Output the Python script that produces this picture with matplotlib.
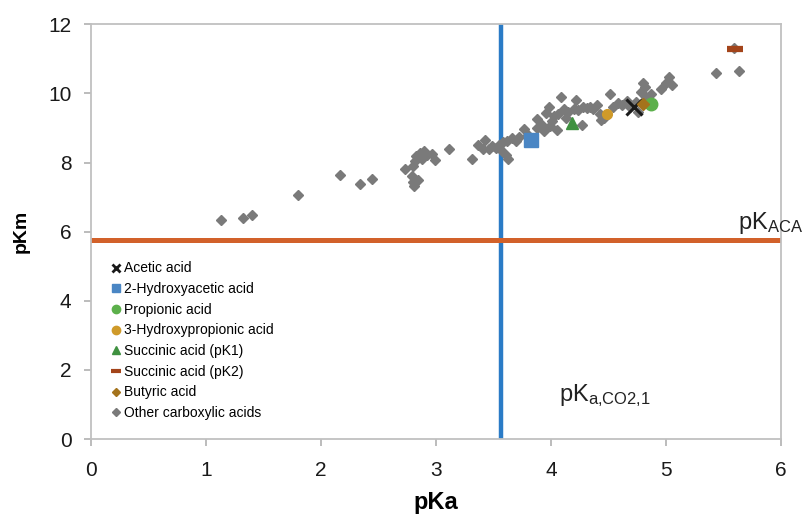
import numpy as np
import matplotlib.pyplot as plt

plt.rcParams['font.family'] = ['Liberation Sans', 'DejaVu Sans']
plt.rcParams['mathtext.default'] = 'regular'

# named acids: (pKa, pKm)
acetic = (4.72, 9.61)
hydroxyacetic = (3.83, 8.66)
propionic = (4.87, 9.69)
hydroxypropionic = (4.49, 9.41)
succinic_pk1 = (4.18, 9.13)
succinic_pk2 = (5.60, 11.28)
butyric = (4.80, 9.70)

# other carboxylic acids
other_pka = [1.13, 1.32, 1.40, 1.80, 2.17, 2.34, 2.44,
             2.73, 2.79, 2.80, 2.81, 2.80, 2.82, 2.83, 2.84, 2.86, 2.88, 2.90, 2.92, 2.97, 2.99, 3.11,
             3.31, 3.37, 3.41, 3.43, 3.46, 3.49, 3.52, 3.55, 3.57, 3.58, 3.61, 3.63, 3.62, 3.66, 3.70,
             3.72, 3.77, 3.80, 3.88, 3.88, 3.92, 3.94, 3.96, 3.98, 3.99, 4.01, 4.03, 4.05, 4.06, 4.09,
             4.11, 4.13, 4.15, 4.20, 4.22, 4.24, 4.27, 4.28, 4.31, 4.34, 4.37, 4.40, 4.43, 4.44, 4.46,
             4.51, 4.54, 4.58, 4.62, 4.66, 4.69, 4.74, 4.76, 4.78, 4.80, 4.82, 4.83, 4.87, 4.96, 5.00,
             5.03, 5.05, 5.44, 5.64, 5.59]
other_pkm = [6.33, 6.40, 6.47, 7.05, 7.65, 7.39, 7.51,
             7.82, 7.62, 7.44, 7.33, 7.90, 8.05, 8.18, 7.50, 8.27, 8.10, 8.33, 8.22, 8.24, 8.08, 8.40,
             8.11, 8.50, 8.38, 8.64, 8.40, 8.47, 8.42, 8.52, 8.35, 8.58, 8.21, 8.10, 8.62, 8.70, 8.62,
             8.74, 8.98, 8.80, 9.27, 9.00, 9.10, 8.92, 9.42, 9.61, 9.05, 9.20, 9.35, 8.95, 9.40, 9.89,
             9.55, 9.30, 9.45, 9.55, 9.80, 9.52, 9.08, 9.60, 9.58, 9.62, 9.55, 9.65, 9.40, 9.22, 9.30,
             9.99, 9.62, 9.72, 9.66, 9.78, 9.60, 9.75, 9.46, 10.05, 10.30, 10.18, 9.90, 9.99, 10.13, 10.30,
             10.47, 10.25, 10.59, 10.64, 11.30]

pka_co2 = 3.57
pk_aca = 5.75

fig = plt.figure(figsize=(8.05, 5.16), dpi=100)
ax = fig.add_axes([0.113, 0.149, 0.857, 0.804])

ax.axvline(pka_co2, color='#2a7bc6', lw=3.2, zorder=1)
ax.axhline(pk_aca, color='#d2612a', lw=3.6, zorder=1)

ax.plot(other_pka, other_pkm, 'D', color='#7a7a7a', ms=5.2, ls='none', zorder=2)
ax.plot(*hydroxyacetic, 's', color='#4a86c4', ms=10, zorder=3)
ax.plot(*succinic_pk1, '^', color='#3f9140', ms=8.5, zorder=3)
ax.plot(*hydroxypropionic, 'o', color='#cf9a2a', ms=7, zorder=3)
ax.plot(*propionic, 'o', color='#5cb04b', ms=9, zorder=3)
ax.plot(*acetic, 'x', color='#1a1a1a', ms=12, mew=2.2, zorder=4)
ax.plot(*butyric, 'D', color='#a4731c', ms=6.5, zorder=4)
ax.plot(*succinic_pk2, '_', color='#a3441a', ms=11, mew=4.5, zorder=4)

# legend
handles = [
    plt.Line2D([], [], marker='x', color='#1a1a1a', ls='none', ms=5.5, mew=2),
    plt.Line2D([], [], marker='s', color='#4a86c4', ls='none', ms=6),
    plt.Line2D([], [], marker='o', color='#5cb04b', ls='none', ms=6),
    plt.Line2D([], [], marker='o', color='#cf9a2a', ls='none', ms=6),
    plt.Line2D([], [], marker='^', color='#3f9140', ls='none', ms=5.5),
    plt.Line2D([], [], marker='_', color='#a3441a', ls='none', ms=7, mew=3),
    plt.Line2D([], [], marker='D', color='#a4731c', ls='none', ms=4),
    plt.Line2D([], [], marker='D', color='#7a7a7a', ls='none', ms=4),
]
labels = ['Acetic acid', '2-Hydroxyacetic acid', 'Propionic acid', '3-Hydroxypropionic acid',
          'Succinic acid (pK1)', 'Succinic acid (pK2)', 'Butyric acid', 'Other carboxylic acids']
ax.legend(handles, labels, loc='upper left', bbox_to_anchor=(0.02, 0.445), frameon=False,
          fontsize=10, handlelength=0.6, handletextpad=0.25, labelspacing=0.48,
          borderaxespad=0.3, borderpad=0.2)

ax.text(5.63, 6.08, r'pK$_{ACA}$', fontsize=17, color='#222222', clip_on=False)
ax.text(4.07, 1.1, r'pK$_{a{,}CO2{,}1}$', fontsize=17, color='#222222')

ax.set_xlim(0, 6)
ax.set_ylim(0, 12)
ax.set_xticks(range(0, 7))
ax.set_yticks(range(0, 13, 2))
ax.tick_params(labelsize=15, color='#b0b0b0', length=5, width=1.2, labelcolor='#1a1a1a')
ax.tick_params(axis='x', pad=11)
ax.tick_params(axis='y', pad=9)
for s in ax.spines.values():
    s.set_color('#c0c0c0')
    s.set_linewidth(1.3)
ax.set_xlabel('pKa', fontsize=17, fontweight='bold', labelpad=8)
ax.set_ylabel('pKm', fontsize=14, fontweight='bold', labelpad=13)

plt.savefig('out.png', dpi=100)
